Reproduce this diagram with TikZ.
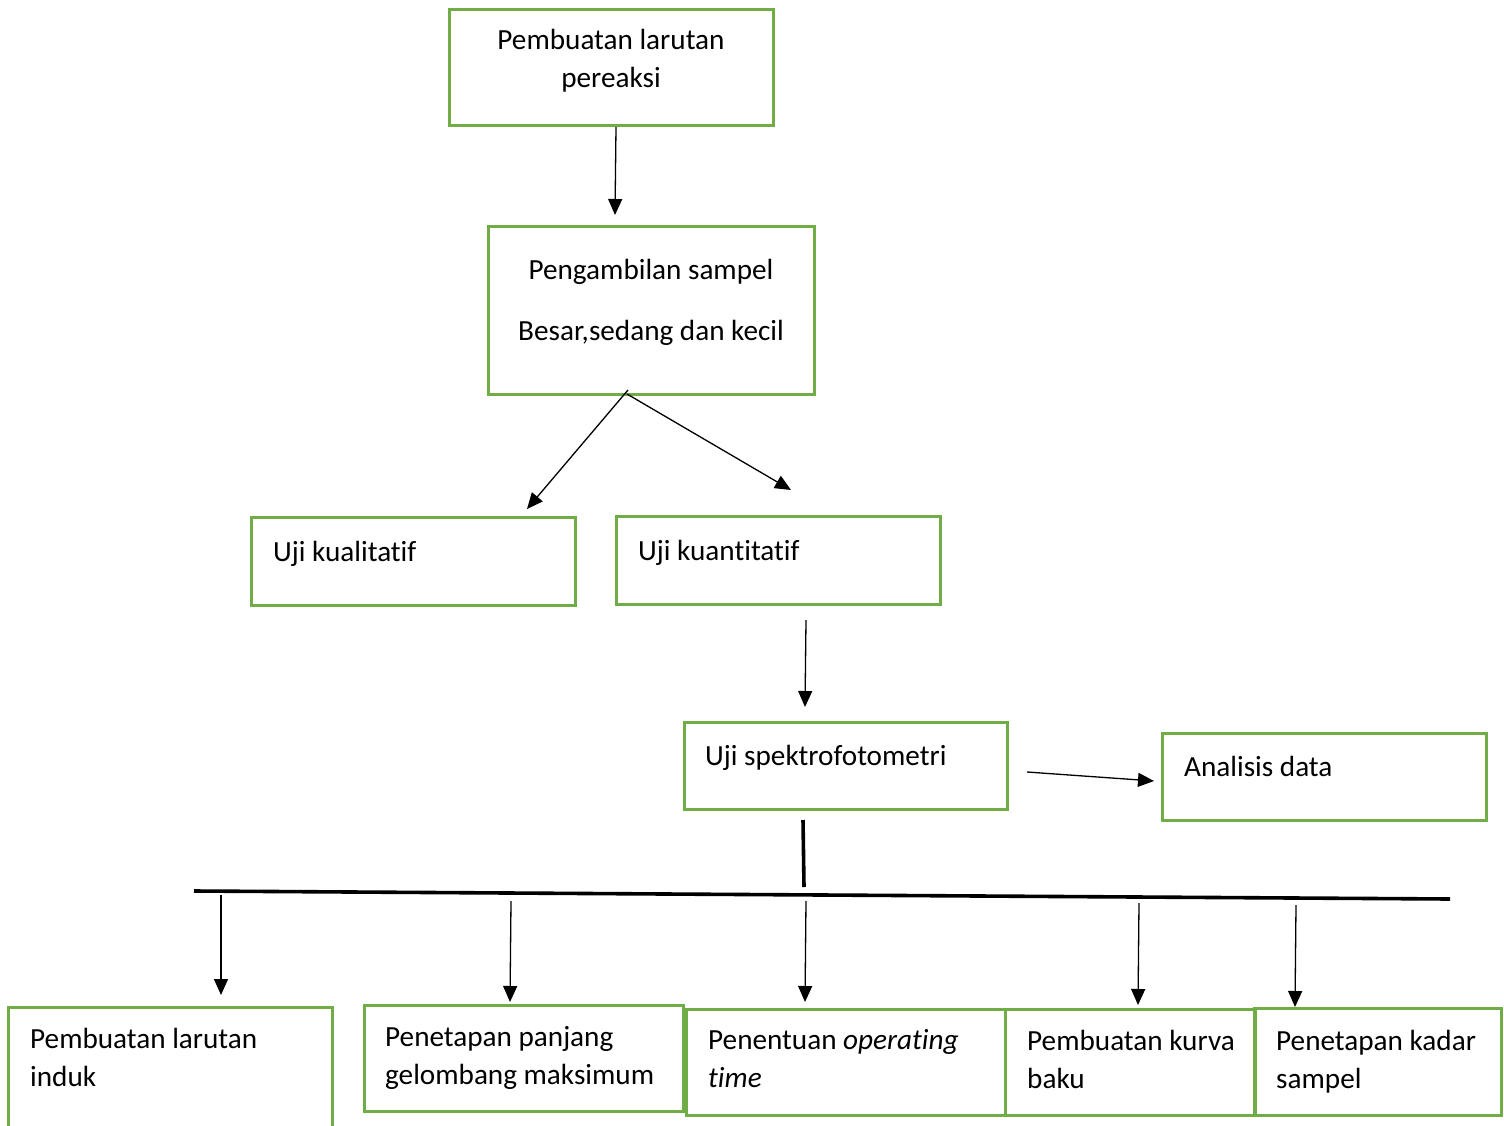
\documentclass[tikz,border=0pt]{standalone}
\usepackage{fontspec}
\setmainfont{Carlito}[Ligatures=CommonOff]
\usetikzlibrary{arrows.meta}
\definecolor{grn}{HTML}{70AD47}
\begin{document}
\begin{tikzpicture}[x=1pt,y=-1pt,
  box/.style={draw=grn, line width=3pt, inner sep=0pt, outer sep=0pt, anchor=north west},
  txt/.style={font=\fontsize{29.2}{38}\selectfont, inner sep=0pt},
  arr/.style={-{Triangle[length=16pt,width=14pt]}, line width=1.3pt},
  bar/.style={line width=3.6pt}]
\path[use as bounding box, clip] (0,0) rectangle (1504,1126);
% boxes
\node[box, minimum width=324pt, minimum height=116pt] (b1) at (449,10) {};
\node[box, minimum width=326pt, minimum height=168pt] (b2) at (488,226) {};
\node[box, minimum width=324pt, minimum height=88pt] (b3) at (251,517) {};
\node[box, minimum width=324pt, minimum height=88pt] (b4) at (616,516) {};
\node[box, minimum width=323pt, minimum height=87pt] (b5) at (684,722) {};
\node[box, minimum width=324pt, minimum height=87pt] (b6) at (1162,733) {};
\node[box, minimum width=324pt, minimum height=140pt] (c1) at (8,1007) {};
\node[box, minimum width=319pt, minimum height=106pt] (c2) at (364,1005) {};
\node[box, minimum width=319pt, minimum height=106pt] (c3) at (686,1009) {};
\node[box, minimum width=250pt, minimum height=106pt] (c4) at (1005,1009) {};
\node[box, minimum width=247pt, minimum height=107pt] (c5) at (1254,1008) {};
% texts
\node[txt, anchor=base] (t1a) at (611,50) {Pembuatan larutan};
\node[txt, anchor=base] (t1b) at (611,88) {pereaksi};
\node[txt, anchor=base] (t2a) at (651,279) {Pengambilan sampel};
\node[txt, anchor=base] (t2b) at (651,340) {Besar,sedang dan kecil};
\node[txt, anchor=base west] (t3) at (273,561) {Uji kualitatif};
\node[txt, anchor=base west] (t4) at (638,560) {Uji kuantitatif};
\node[txt, anchor=base west] (t5) at (705,765) {Uji spektrofotometri};
\node[txt, anchor=base west] (t6) at (1184,776) {Analisis data};
\node[txt, anchor=base west] (u1a) at (30,1048) {Pembuatan larutan};
\node[txt, anchor=base west] (u1b) at (30,1086) {induk};
\node[txt, anchor=base west] (u2a) at (385,1046) {Penetapan panjang};
\node[txt, anchor=base west] (u2b) at (385,1084) {gelombang maksimum};
\node[txt, anchor=base west] (u3a) at (708,1049) {Penentuan \textit{operating}};
\node[txt, anchor=base west] (u3b) at (708,1087) {\textit{time}};
\node[txt, anchor=base west] (u4a) at (1027,1050) {Pembuatan kurva};
\node[txt, anchor=base west] (u4b) at (1027,1088) {baku};
\node[txt, anchor=base west] (u5a) at (1276,1050) {Penetapan kadar};
\node[txt, anchor=base west] (u5b) at (1276,1088) {sampel};
% connector points
\coordinate (p1s) at (616,127);  \coordinate (p1e) at (615,215);
\coordinate (p2s) at (628,390);  \coordinate (p2e) at (527,509);
\coordinate (p3s) at (627,394);  \coordinate (p3e) at (791,490);
\coordinate (p4s) at (806,620);  \coordinate (p4e) at (805,707);
\coordinate (p5s) at (1027,772); \coordinate (p5e) at (1154,781);
\coordinate (v1) at (803,820);   \coordinate (v2) at (804,887);
\coordinate (hl) at (194,891);   \coordinate (hr) at (1450,899);
\coordinate (d1s) at (221,895);  \coordinate (d1e) at (221,995);
\coordinate (d2s) at (511,901);  \coordinate (d2e) at (510,1002);
\coordinate (d3s) at (806,901);  \coordinate (d3e) at (805,1002);
\coordinate (d4s) at (1139,903); \coordinate (d4e) at (1138,1005);
\coordinate (d5s) at (1296,905); \coordinate (d5e) at (1295,1007);
% connectors
\draw[arr] (p1s) -- (p1e);
\draw[arr] (p2s) -- (p2e);
\draw[arr] (p3s) -- (p3e);
\draw[arr] (p4s) -- (p4e);
\draw[arr] (p5s) -- (p5e);
\draw[bar] (v1) -- (v2);
\draw[bar] (hl) -- (hr);
\draw[arr] (d1s) -- (d1e);
\draw[arr] (d2s) -- (d2e);
\draw[arr] (d3s) -- (d3e);
\draw[arr] (d4s) -- (d4e);
\draw[arr] (d5s) -- (d5e);
\end{tikzpicture}
\end{document}
